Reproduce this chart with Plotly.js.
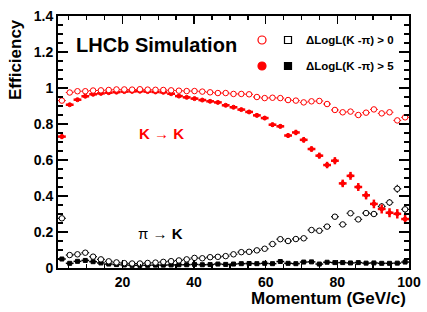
<!DOCTYPE html>
<html><head><meta charset="utf-8">
<script src="https://cdn.plot.ly/plotly-3.0.1.min.js"></script>
<style>html,body{margin:0;padding:0;background:#fff}#c{width:427px;height:312px}</style>
</head><body><div id="c"></div>
<script>
// Bin centres (GeV/c), 45 bins between 2 and 100
const momentum = [3.09,5.27,7.44,9.62,11.80,13.98,16.16,18.33,20.51,22.69,24.87,27.04,29.22,31.40,33.58,35.76,37.93,40.11,42.29,44.47,46.64,48.82,51.00,53.18,55.36,57.53,59.71,61.89,64.07,66.24,68.42,70.60,72.78,74.96,77.13,79.31,81.49,83.67,85.84,88.02,90.20,92.38,94.56,96.73,98.91];
const binHalfWidth = 1.089;

// K -> K, DLL(K-pi) > 0
const effKK_dll0 = [0.930,0.975,0.982,0.982,0.986,0.987,0.989,0.992,0.992,0.991,0.993,0.991,0.990,0.989,0.987,0.985,0.983,0.983,0.980,0.976,0.972,0.972,0.967,0.967,0.965,0.950,0.944,0.946,0.944,0.933,0.930,0.920,0.926,0.928,0.911,0.878,0.865,0.869,0.850,0.863,0.881,0.859,0.865,0.820,0.837];
const errKK_dll0 = [0.008,0.003,0.002,0.002,0.002,0.002,0.002,0.002,0.002,0.002,0.002,0.002,0.002,0.002,0.002,0.002,0.002,0.002,0.003,0.003,0.003,0.003,0.003,0.003,0.004,0.004,0.004,0.004,0.005,0.005,0.005,0.006,0.006,0.006,0.007,0.007,0.008,0.008,0.008,0.009,0.009,0.010,0.010,0.011,0.012];
// K -> K, DLL(K-pi) > 5
const effKK_dll5 = [0.730,0.907,0.935,0.954,0.965,0.970,0.974,0.977,0.980,0.981,0.982,0.980,0.978,0.976,0.968,0.955,0.948,0.941,0.933,0.926,0.920,0.904,0.893,0.880,0.867,0.848,0.833,0.796,0.787,0.736,0.753,0.712,0.661,0.624,0.572,0.596,0.470,0.512,0.450,0.404,0.356,0.328,0.307,0.301,0.272];
const errKK_dll5 = [0.014,0.004,0.004,0.004,0.004,0.004,0.004,0.004,0.004,0.004,0.005,0.005,0.005,0.005,0.005,0.006,0.006,0.006,0.006,0.006,0.008,0.008,0.008,0.008,0.009,0.011,0.011,0.012,0.012,0.013,0.015,0.016,0.016,0.017,0.018,0.020,0.021,0.022,0.022,0.023,0.024,0.025,0.025,0.026,0.026];
// pi -> K, DLL(K-pi) > 0
const effPK_dll0 = [0.276,0.072,0.076,0.085,0.063,0.048,0.037,0.031,0.027,0.025,0.025,0.028,0.030,0.034,0.038,0.042,0.048,0.056,0.054,0.060,0.062,0.066,0.076,0.088,0.090,0.098,0.107,0.133,0.160,0.150,0.161,0.165,0.211,0.207,0.230,0.285,0.242,0.304,0.270,0.305,0.300,0.342,0.364,0.440,0.326];
const errPK_dll0 = [0.012,0.003,0.003,0.003,0.003,0.002,0.002,0.002,0.002,0.002,0.002,0.002,0.002,0.002,0.002,0.002,0.003,0.003,0.003,0.003,0.003,0.003,0.004,0.004,0.004,0.005,0.005,0.006,0.006,0.007,0.007,0.008,0.009,0.009,0.010,0.012,0.012,0.013,0.014,0.015,0.016,0.018,0.019,0.022,0.022];
// pi -> K, DLL(K-pi) > 5
const effPK_dll5 = [0.050,0.026,0.037,0.042,0.035,0.028,0.022,0.019,0.017,0.015,0.015,0.015,0.016,0.016,0.017,0.018,0.018,0.020,0.018,0.019,0.022,0.020,0.022,0.024,0.025,0.024,0.026,0.024,0.036,0.026,0.024,0.033,0.034,0.022,0.032,0.030,0.030,0.028,0.030,0.027,0.028,0.026,0.026,0.027,0.033];
const errPK_dll5 = [0.006,0.002,0.002,0.002,0.002,0.002,0.001,0.001,0.001,0.001,0.001,0.001,0.001,0.001,0.001,0.001,0.001,0.001,0.001,0.001,0.002,0.002,0.002,0.002,0.002,0.002,0.002,0.002,0.003,0.003,0.003,0.003,0.004,0.004,0.004,0.004,0.005,0.005,0.005,0.005,0.006,0.006,0.006,0.006,0.007];

const RED = '#ff0000', BLK = '#000000';
const FONT = 'Liberation Sans, Arial, Helvetica, sans-serif';

function tr(y, ey, color, symbol, size, fill, bw){
  return {
    type:'scatter', mode:'markers', x: momentum, y: y,
    error_x:{type:'constant', value: binHalfWidth, color: color, thickness: bw, width:0},
    error_y:{type:'data', array: ey, color: color, thickness: bw, width:0},
    marker:{symbol: symbol, size: size, color: fill, line:{color: color, width: 1}},
    showlegend:false, hoverinfo:'skip', cliponaxis:true
  };
}

const data = [
  tr(effPK_dll5, errPK_dll5, BLK, 'square', 4, BLK, 1.5),
  tr(effPK_dll0, errPK_dll0, BLK, 'circle', 5.5, '#ffffff', 1.2),
  tr(effKK_dll5, errKK_dll5, RED, 'circle', 4, RED, 2.5),
  tr(effKK_dll0, errKK_dll0, RED, 'circle', 5.5, '#ffffff', 1)
];

const axisCommon = {
  showline:true, linecolor:BLK, linewidth:2, mirror:'allticks',
  ticks:'inside', tickcolor:BLK, tickwidth:1.5, showgrid:false, zeroline:false,
  tickfont:{family:FONT, size:14, color:BLK, weight:'bold'}
};

function px2x(p){ return (p-58)/351; }
function py2y(p){ return (268-p)/252; }

function legGlyph(type, cx, cy, r, color, fill){
  return {type:type, xref:'paper', yref:'paper', xsizemode:'pixel', ysizemode:'pixel',
    xanchor: px2x(cx), yanchor: py2y(cy), x0:-r, x1:r, y0:-r, y1:r,
    line:{color:color, width:1.2}, fillcolor: fill, layer:'above'};
}

const layout = {
  width:427, height:312,
  margin:{l:58, r:18, t:16, b:44},
  paper_bgcolor:'#ffffff', plot_bgcolor:'#ffffff',
  font:{family:FONT, color:BLK},
  xaxis: Object.assign({}, axisCommon, {range:[2,100], tickvals:[20,40,60,80,100], ticklen:8,
    minor:{dtick:5, tick0:0, ticklen:4, ticks:'inside', tickcolor:BLK, tickwidth:1.5}}),
  yaxis: Object.assign({}, axisCommon, {range:[0,1.4], tickvals:[0,0.2,0.4,0.6,0.8,1,1.2,1.4], ticktext:['0','0.2','0.4','0.6','0.8','1','1.2','1.4'], ticklen:10,
    minor:{dtick:0.05, tick0:0, ticklen:5, ticks:'inside', tickcolor:BLK, tickwidth:1.5}}),
  shapes:[
    legGlyph('circle', 262, 40, 4, RED, 'rgba(0,0,0,0)'),
    legGlyph('rect', 288, 40, 3.5, BLK, 'rgba(0,0,0,0)'),
    legGlyph('circle', 262, 66, 4, RED, RED),
    legGlyph('rect', 288, 66, 3.5, BLK, BLK)
  ],
  annotations:[
    {text:'Efficiency', xref:'paper', yref:'paper', x:px2x(15), y:py2y(60), textangle:-90,
      showarrow:false, xanchor:'center', yanchor:'middle', font:{family:FONT, size:17, weight:'bold', color:BLK}},
    {text:'Momentum (GeV/c)', xref:'paper', yref:'paper', x:px2x(408), y:py2y(298),
      showarrow:false, xanchor:'right', yanchor:'middle', font:{family:FONT, size:17, weight:'bold', color:BLK}},
    {text:'LHCb Simulation', xref:'paper', yref:'paper', x:px2x(74), y:py2y(45),
      showarrow:false, xanchor:'left', yanchor:'middle', font:{family:FONT, size:20, weight:'bold', color:BLK}},
    {text:'ΔLogL(K -π) > 0', xref:'paper', yref:'paper', x:px2x(304), y:py2y(40),
      showarrow:false, xanchor:'left', yanchor:'middle', font:{family:FONT, size:11.5, weight:'bold', color:BLK}},
    {text:'ΔLogL(K -π) > 5', xref:'paper', yref:'paper', x:px2x(304), y:py2y(66),
      showarrow:false, xanchor:'left', yanchor:'middle', font:{family:FONT, size:11.5, weight:'bold', color:BLK}},
    {text:'<b>K</b> → <b>K</b>', xref:'paper', yref:'paper', x:px2x(161), y:py2y(133),
      showarrow:false, xanchor:'center', yanchor:'middle', font:{family:FONT, size:15, color:RED}},
    {text:'π → <b>K</b>', xref:'paper', yref:'paper', x:px2x(160), y:py2y(233),
      showarrow:false, xanchor:'center', yanchor:'middle', font:{family:FONT, size:15, color:BLK}}
  ]
};

Plotly.newPlot('c', data, layout, {staticPlot:true, displayModeBar:false});
</script>
</body></html>
